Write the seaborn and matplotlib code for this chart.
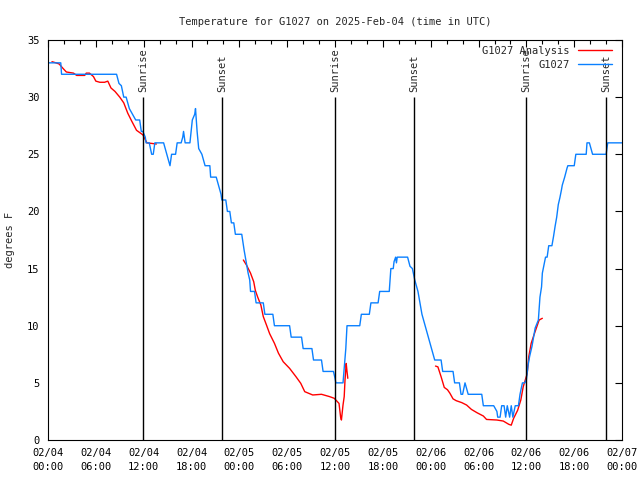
import pandas as pd
import matplotlib
matplotlib.use("Agg")
import matplotlib.pyplot as plt
import matplotlib.dates as mdates
import seaborn as sns

# station obs (hours after 2025-02-04 00:00 UTC, deg F)
obs_hours = [0, 1.6, 1.7, 8.6, 8.9, 9.2, 9.5, 9.8, 10.2, 10.6, 11.0, 11.5, 11.7, 11.9,
             12.2, 12.3, 12.7, 13.0, 13.2, 13.4, 14.5, 14.9, 15.3, 15.5, 16.0, 16.2, 16.7,
             16.9, 17.0, 17.2, 17.8, 18.1, 18.4, 18.5, 18.7, 18.9, 19.3, 19.7, 20.3, 20.4,
             21.1, 21.3, 21.7, 21.8, 22.3, 22.5, 22.8, 23.0, 23.3, 23.5, 24.3, 24.6, 24.8,
             25.1, 25.3, 25.4, 25.9, 26.1, 27.0, 27.2, 28.2, 28.4, 30.3, 30.5, 31.8, 32.0,
             33.1, 33.3, 34.3, 34.5, 35.8, 36.0, 36.1, 37.0, 37.2, 37.35, 37.5, 39.1, 39.3,
             40.3, 40.5, 41.4, 41.6, 42.8, 43.0, 43.3, 43.4, 43.6, 43.7, 43.8, 44.1, 45.1,
             45.4, 45.7, 46.0, 46.4, 46.9, 47.3, 47.7, 48.1, 48.5, 49.3, 49.5, 50.8, 51.0,
             51.6, 51.8, 52.0, 52.3, 52.5, 52.7, 54.4, 54.6, 55.9, 56.3, 56.4, 56.7, 56.9,
             57.2, 57.4, 57.6, 57.9, 58.1, 58.3, 58.6, 59.0, 59.2, 59.5, 59.8, 60.0, 60.2,
             60.4, 60.7, 60.9, 61.1, 61.5, 61.7, 61.9, 62.0, 62.2, 62.4, 62.6, 62.8, 63.2,
             63.4, 63.6, 63.8, 64.0, 64.2, 64.4, 64.5, 64.8, 65.1, 65.2, 66.0, 66.2, 67.5,
             67.6, 67.9, 68.3, 70.0, 70.2, 72.0]
obs_temp = [33, 33, 32, 32, 31.2, 31, 30, 30, 29, 28.5, 28, 28, 27, 27,
            26.5, 26, 26, 25, 25, 26, 26, 25, 24, 25, 25, 26, 26,
            26.5, 27, 26, 26, 28, 28.5, 29, 27, 25.5, 25, 24, 24, 23,
            23, 22.5, 21.5, 21, 21, 20, 20, 19, 19, 18, 18, 16.6, 15.8,
            14.6, 14, 13, 13, 12, 12, 11, 11, 10, 10, 9, 9, 8,
            8, 7, 7, 6, 6, 5.4, 5, 5, 6.7, 8, 10, 10, 11,
            11, 12, 12, 13, 13, 15, 15, 15.6, 16, 15.5, 16, 16, 16,
            15.2, 15, 14, 13, 11, 10, 9, 8, 7, 7, 6, 6, 5,
            5, 4, 4, 5, 4.5, 4, 4, 3, 3, 2.5, 2, 2, 3,
            3, 2, 3, 2, 3, 2, 3, 3, 4, 5, 5, 5.3, 6.5,
            7.3, 8.2, 9, 9.8, 10.5, 12.5, 13.4, 14.6, 15.3, 16, 16, 17, 17,
            17.8, 18.7, 19.5, 20.6, 21.2, 21.9, 22.3, 23, 23.8, 24, 24, 25, 25,
            26, 26, 25, 25, 26, 26]

# analysis, three pieces
ana_hours_1 = [0.5, 1.0, 1.4, 1.9, 2.3, 3.2, 3.6, 4.6, 4.8, 5.2, 5.7, 6.0, 6.5, 7.1,
               7.5, 7.9, 8.4, 9.0, 9.5, 10.0, 10.5, 11.1, 11.9, 12.4, 13.6]
ana_temp_1 = [33.1, 33.0, 32.9, 32.5, 32.2, 32.1, 31.9, 31.9, 32.1, 32.1, 31.8, 31.4,
              31.3, 31.3, 31.4, 30.8, 30.5, 30.0, 29.5, 28.6, 27.9, 27.1, 26.7, 26.0, 25.9]
ana_hours_2 = [24.5, 24.9, 25.4, 25.8, 26.0, 26.3, 26.7, 27.0, 27.4, 27.8, 28.4, 28.9,
               29.5, 30.3, 31.1, 31.7, 32.2, 33.2, 34.3, 35.3, 35.9, 36.5, 36.7, 36.8,
               37.0, 37.15, 37.25, 37.4, 37.5, 37.6]
ana_temp_2 = [15.75, 15.3, 14.6, 13.85, 13.1, 12.5, 11.8, 10.8, 10.06, 9.3, 8.46, 7.6,
              6.85, 6.27, 5.54, 4.96, 4.23, 3.94, 4.0, 3.8, 3.65, 3.2, 2.0, 1.75,
              3.06, 3.8, 5.25, 6.7, 6.0, 5.4]
ana_hours_3 = [48.6, 48.9, 49.3, 49.7, 50.1, 50.4, 50.8, 51.2, 51.9, 52.5, 53.1, 53.8,
               54.6, 55.0, 56.3, 57.1, 57.8, 58.1, 58.4, 58.9, 59.3, 59.6, 60.1, 60.3,
               60.6, 61.0, 61.3, 61.6, 62.0]
ana_temp_3 = [6.47, 6.4, 5.54, 4.6, 4.4, 4.1, 3.6, 3.44, 3.27, 3.06, 2.68, 2.39,
              2.1, 1.8, 1.75, 1.66, 1.37, 1.3, 1.9, 2.6, 3.5, 4.66, 5.8, 7.3,
              8.46, 9.3, 9.9, 10.5, 10.65]

sun_hours = [11.95, 21.85, 36.0, 45.9, 59.97, 70.0]
sun_labels = ["Sunrise", "Sunset", "Sunrise", "Sunset", "Sunrise", "Sunset"]

t0 = pd.Timestamp("2025-02-04 00:00")
to_time = lambda h: t0 + pd.to_timedelta(pd.Series(h, dtype=float), unit="h")

obs = pd.DataFrame({"time": to_time(obs_hours), "temp": obs_temp})
ana = pd.concat([
    pd.DataFrame({"time": to_time(h), "temp": v, "seg": i})
    for i, (h, v) in enumerate([(ana_hours_1, ana_temp_1),
                                (ana_hours_2, ana_temp_2),
                                (ana_hours_3, ana_temp_3)])
], ignore_index=True)

sns.set_theme(style="white")
plt.rcParams["font.family"] = ["DejaVu Sans Mono"]
plt.rcParams["font.size"] = 7

fig = plt.figure(figsize=(6.4, 4.8), dpi=100)
ax = fig.add_axes([0.075, 0.0833, 0.897, 0.8334])

sns.lineplot(data=ana, x="time", y="temp", units="seg", estimator=None,
             color="#ff0000", lw=1.0, ax=ax)
sns.lineplot(data=obs, x="time", y="temp", color="#0a80ff", lw=1.0, ax=ax)

for h, lab in zip(sun_hours, sun_labels):
    x = t0 + pd.Timedelta(hours=h)
    ax.vlines(x, 0, 30, color="black", lw=1.0)
    ax.text(x, 30.45, lab, rotation=90, ha="center", va="bottom", fontsize=7.5)

ax.set_xlim(t0, t0 + pd.Timedelta(hours=72))
ax.set_ylim(0, 35)
ax.set_yticks(range(0, 36, 5))
ax.xaxis.set_major_locator(mdates.HourLocator(byhour=[0, 6, 12, 18]))
ax.xaxis.set_minor_locator(mdates.HourLocator(interval=2))
ax.xaxis.set_major_formatter(mdates.DateFormatter("%m/%d\n%H:%M"))
ax.tick_params(which="both", direction="in", top=True, right=True, colors="black",
               labelsize=7.5, width=0.8)
ax.tick_params(which="major", length=5, pad=6)
ax.tick_params(which="minor", length=3)
for lbl in ax.get_xticklabels():
    lbl.set_linespacing(1.45)
for s in ax.spines.values():
    s.set_color("black")
    s.set_linewidth(0.8)

ax.set_xlabel("")
ax.set_ylabel("degrees F", fontsize=7.5, labelpad=9)
ax.set_title("Temperature for G1027 on 2025-Feb-04 (time in UTC)", fontsize=7.5, pad=11)

# gnuplot-style key: right-aligned text, sample on the right
h_ana = plt.Line2D([], [], color="#ff0000", lw=1.0)
h_obs = plt.Line2D([], [], color="#0a80ff", lw=1.0)
leg1 = ax.legend([h_ana], ["G1027 Analysis"], loc="upper right", markerfirst=False,
                 frameon=False, handlelength=3.2, fontsize=7.5,
                 bbox_to_anchor=(1.0, 1.012), borderaxespad=0.6)
ax.add_artist(leg1)
ax.legend([h_obs], ["G1027"], loc="upper right", markerfirst=False,
          frameon=False, handlelength=3.2, fontsize=7.5,
          bbox_to_anchor=(1.0, 0.977), borderaxespad=0.6)

fig.savefig("out.png", dpi=100)
